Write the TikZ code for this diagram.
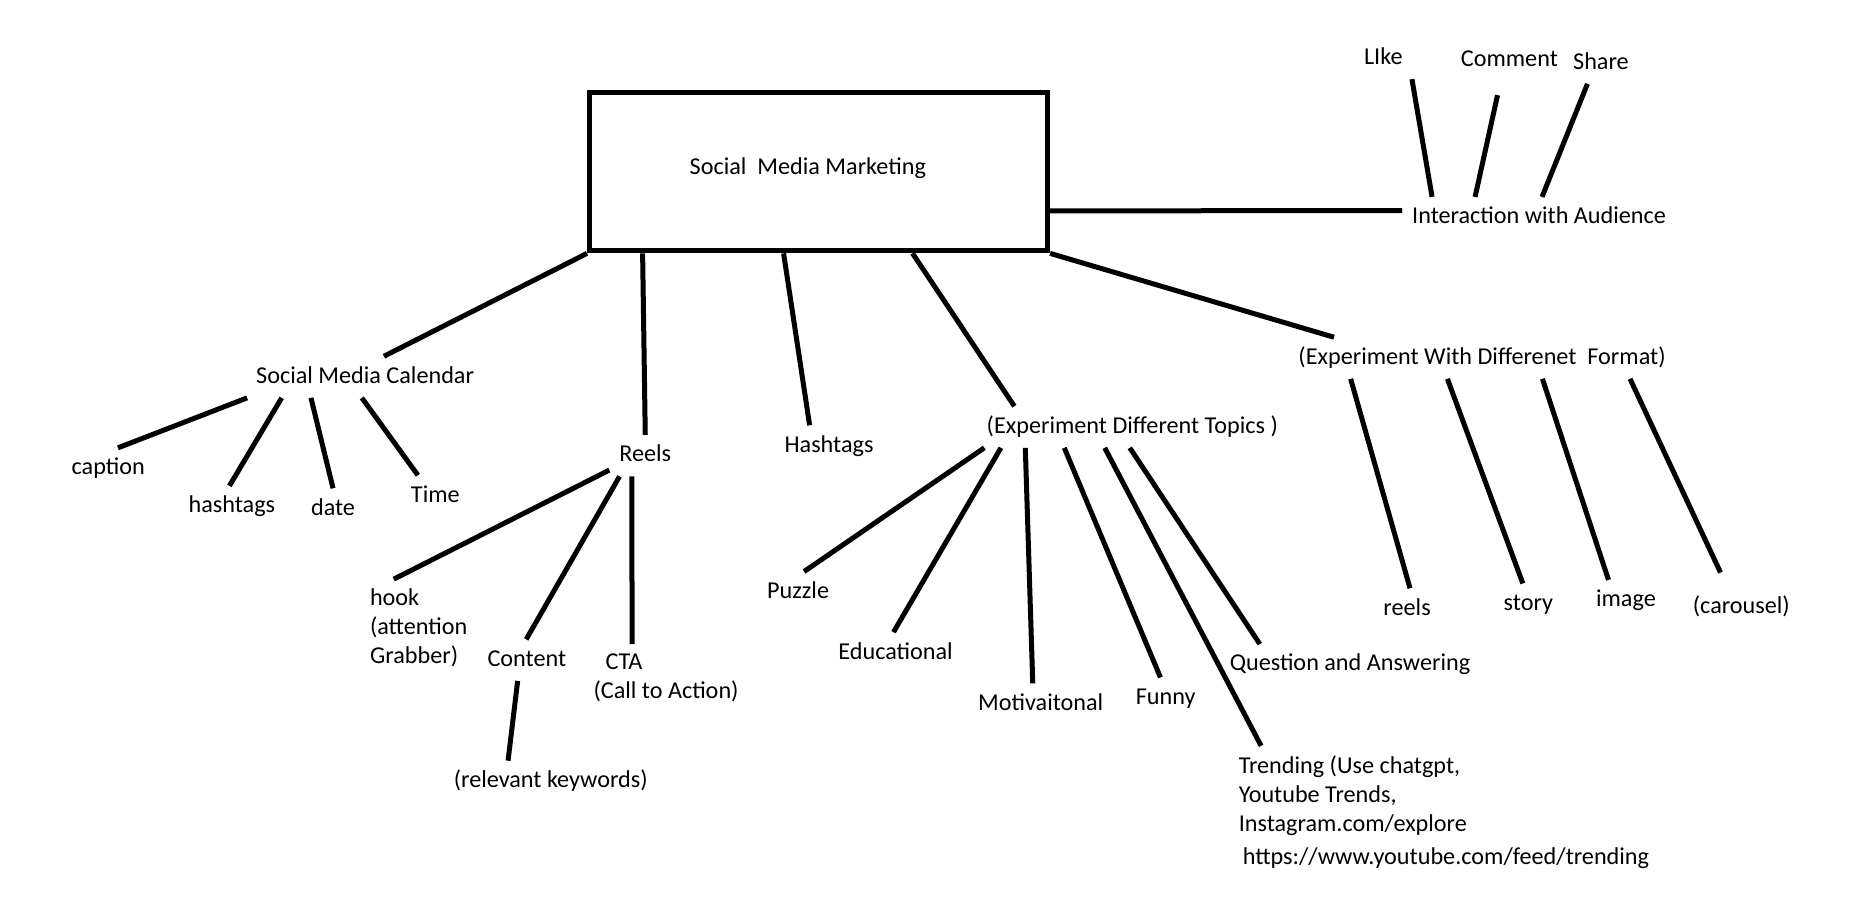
\documentclass[tikz,border=0pt]{standalone}
\usepackage{fontspec}
\setmainfont{Carlito}
\usepackage{tikz}
\usetikzlibrary{calc}
\tikzset{
  lbl/.style={inner sep=2pt, outer sep=3pt, text height=8.4pt, text depth=2.4pt, yshift=-1.2pt},
  lblblock/.style={inner sep=2pt, outer sep=3pt, align=left, yshift=-1.2pt},
  branch/.style={line width=2.5pt},
}

\begin{document}
\begin{tikzpicture}[x=0.5947pt, y=-0.5947pt, font=\fontsize{12.1}{14.4}\selectfont]
  \useasboundingbox (0,0) rectangle (1568,759);
  \node[draw, line width=2.5pt, minimum width=229pt, minimum height=79.1pt, inner sep=0pt] (smm) at (688.2,144.4) {\smash{\raisebox{-1.3pt}{Social~ Media Marketing}}\hspace*{10.7pt}};

  \node[lbl] (cal) at (307,315) {Social Media Calendar};
  \node[lbl] (reels) at (542.5,381) {Reels};
  \node[lbl] (hash) at (697,373) {Hashtags};
  \node[lbl] (topics) at (952,357) {(Experiment Different Topics )};
  \node[lbl] (format) at (1246,299) {(Experiment With Differenet~ Format)};
  \node[lbl] (inter) at (1294,181) {Interaction with Audience};

  \node[lbl] (like) at (1163,47) {LIke};
  \node[lbl] (comment) at (1269,49) {Comment};
  \node[lbl] (share) at (1346,51) {Share};

  \node[lbl] (caption) at (91,392) {caption};
  \node[lbl] (hashtags) at (195,424) {hashtags};
  \node[lbl] (date) at (280,426) {date};
  \node[lbl] (time) at (366,415) {Time};

  \node[lblblock] (hook) at (352,526) {hook\\(attention\\Grabber)};
  \node[lbl] (content) at (443,553) {Content};
  \node[lblblock] (cta) at (560,568) {\hspace*{6pt}CTA\\(Call to Action)};
  \node[lbl] (kw) at (463,655) {(relevant keywords)};

  \node[lbl] (puzzle) at (671,496) {Puzzle};
  \node[lbl] (edu) at (753,547) {Educational};
  \node[lbl] (motiv) at (875,590) {Motivaitonal};
  \node[lbl] (funny) at (980,585) {Funny};
  \node[lblblock] (trend) at (1214,681) {Trending (Use chatgpt,\\Youtube Trends,\\Instagram.com/explore\\[2.4pt]\hspace*{2pt}https://www.youtube.com/feed/trending};
  \node[lbl] (qa) at (1135,557) {Question and Answering};

  \node[lbl] (reelsfmt) at (1183,510) {reels};
  \node[lbl] (story) at (1285,506) {story};
  \node[lbl] (image) at (1367,503) {image};
  \node[lbl] (carousel) at (1464,509) {(carousel)};

  \draw[branch] (smm.south west) -- (cal.48);
  \draw[branch] ($(smm.south west)!.12!(smm.south east)$) -- (reels.north);
  \draw[branch] ($(smm.south west)!.4245!(smm.south east)$) -- (hash.133);
  \draw[branch] ($(smm.south west)!.703!(smm.south east)$) -- (topics.170);
  \draw[branch] (smm.south east) -- (format.172);
  \draw[branch] ($(smm.north east)!.74!(smm.south east)$) -- (inter.177.5);

  \draw[branch] (inter.169) -- (like.324);
  \draw[branch, shorten >=7pt] (inter.162) -- (comment.247.5);
  \draw[branch] (inter.82) -- (share.237);

  \draw[branch] (cal.190.5) -- (caption.65);
  \draw[branch] (cal.194.5) -- (hashtags.97);
  \draw[branch] (cal.201) -- (date.north);
  \draw[branch] (cal.261) -- (time.130);

  \draw[branch] (reels.202) -- (hook.117);
  \draw[branch] (reels.219) -- (content.92);
  \draw[branch] (reels.237) -- (cta.135.5);
  \draw[branch] (content.246) -- (kw.154);

  \draw[branch] (topics.188) -- (puzzle.74);
  \draw[branch] (topics.189) -- (edu.96);
  \draw[branch] (topics.191.5) -- (motiv.111);
  \draw[branch] (topics.197.5) -- (funny.104);
  \draw[branch] (topics.217.5) -- (trend.160.5);
  \draw[branch] (topics.263.5) -- (qa.167);

  \draw[branch] (format.189) -- (reelsfmt.82.5);
  \draw[branch] (format.211) -- (story.105);
  \draw[branch] (format.341.5) -- (image.130);
  \draw[branch, shorten >=8pt] (format.352.7) -- (carousel.124);
\end{tikzpicture}
\end{document}
